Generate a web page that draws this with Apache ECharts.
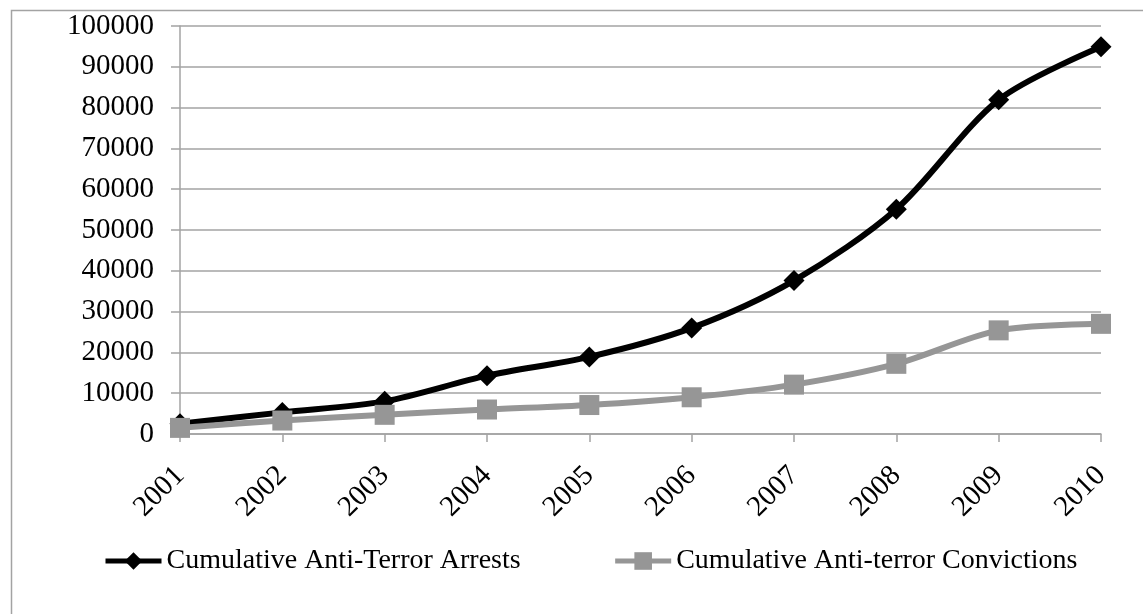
<!DOCTYPE html>
<html>
<head>
<meta charset="utf-8">
<script src="https://cdn.jsdelivr.net/npm/echarts@6/dist/echarts.min.js"></script>
<style>
  html, body { margin: 0; padding: 0; background: #fff; }
  #chart { width: 1143px; height: 614px; }
</style>
</head>
<body>
<div id="chart"></div>
<script>
// Years on the category axis
const years = ['2001', '2002', '2003', '2004', '2005', '2006', '2007', '2008', '2009', '2010'];

// Running totals per year
const arrests = [2500, 5300, 8000, 14300, 18900, 26000, 37600, 55100, 81900, 94900];
const convictions = [1500, 3300, 4700, 6000, 7100, 9000, 12100, 17200, 25400, 27000];

const seriesNames = ['Cumulative Anti-Terror Arrests', 'Cumulative Anti-terror Convictions'];

const FONT = '"Liberation Serif", "DejaVu Serif", serif';
const GRID_GRAY = '#a3a3a3';
const SERIES_GRAY = '#969696';

const chart = echarts.init(document.getElementById('chart'), null, { renderer: 'canvas' });

chart.setOption({
  animation: false,
  backgroundColor: '#ffffff',
  textStyle: { fontFamily: FONT, color: '#000' },
  graphic: [{
    type: 'rect',
    left: 9, top: 8,
    shape: { width: 1200, height: 700 },
    style: { fill: 'none', stroke: GRID_GRAY, lineWidth: 1.5 },
    silent: true, z: -1
  }],
  grid: { left: 180, right: 42, top: 26, bottom: 180 },
  legend: {
    left: 103,
    top: 547,
    padding: 0,
    itemWidth: 56,
    itemHeight: 22,
    itemGap: 92,
    textStyle: { fontFamily: FONT, fontSize: 28, color: '#000' },
    lineStyle: { width: 5 },
    data: seriesNames
  },
  xAxis: {
    type: 'category',
    data: years,
    boundaryGap: false,
    axisLine: { lineStyle: { color: GRID_GRAY, width: 1.5 } },
    axisTick: { show: true, length: 8, alignWithLabel: true, lineStyle: { color: GRID_GRAY, width: 1.5 } },
    axisLabel: { rotate: 45, margin: 37, fontFamily: FONT, fontSize: 29, color: '#000' },
    splitLine: { show: false }
  },
  yAxis: {
    type: 'value',
    min: 0,
    max: 100000,
    interval: 10000,
    axisLine: { show: true, lineStyle: { color: GRID_GRAY, width: 1.5 } },
    axisTick: { show: true, length: 9, lineStyle: { color: GRID_GRAY, width: 1.5 } },
    axisLabel: {
      margin: 26, fontFamily: FONT, fontSize: 29, color: '#000',
      formatter: (v) => String(v)
    },
    splitLine: { show: true, lineStyle: { color: GRID_GRAY, width: 1.5 } }
  },
  series: [
    {
      name: seriesNames[0],
      type: 'line',
      data: arrests,
      smooth: 0.3,
      symbol: 'diamond',
      symbolSize: 21,
      color: '#000000',
      lineStyle: { color: '#000000', width: 6 },
      itemStyle: { color: '#000000' },
      z: 3
    },
    {
      name: seriesNames[1],
      type: 'line',
      data: convictions,
      smooth: 0.3,
      symbol: 'rect',
      symbolSize: 20,
      color: SERIES_GRAY,
      lineStyle: { color: SERIES_GRAY, width: 6 },
      itemStyle: { color: SERIES_GRAY },
      z: 4
    }
  ]
});
</script>
</body>
</html>
